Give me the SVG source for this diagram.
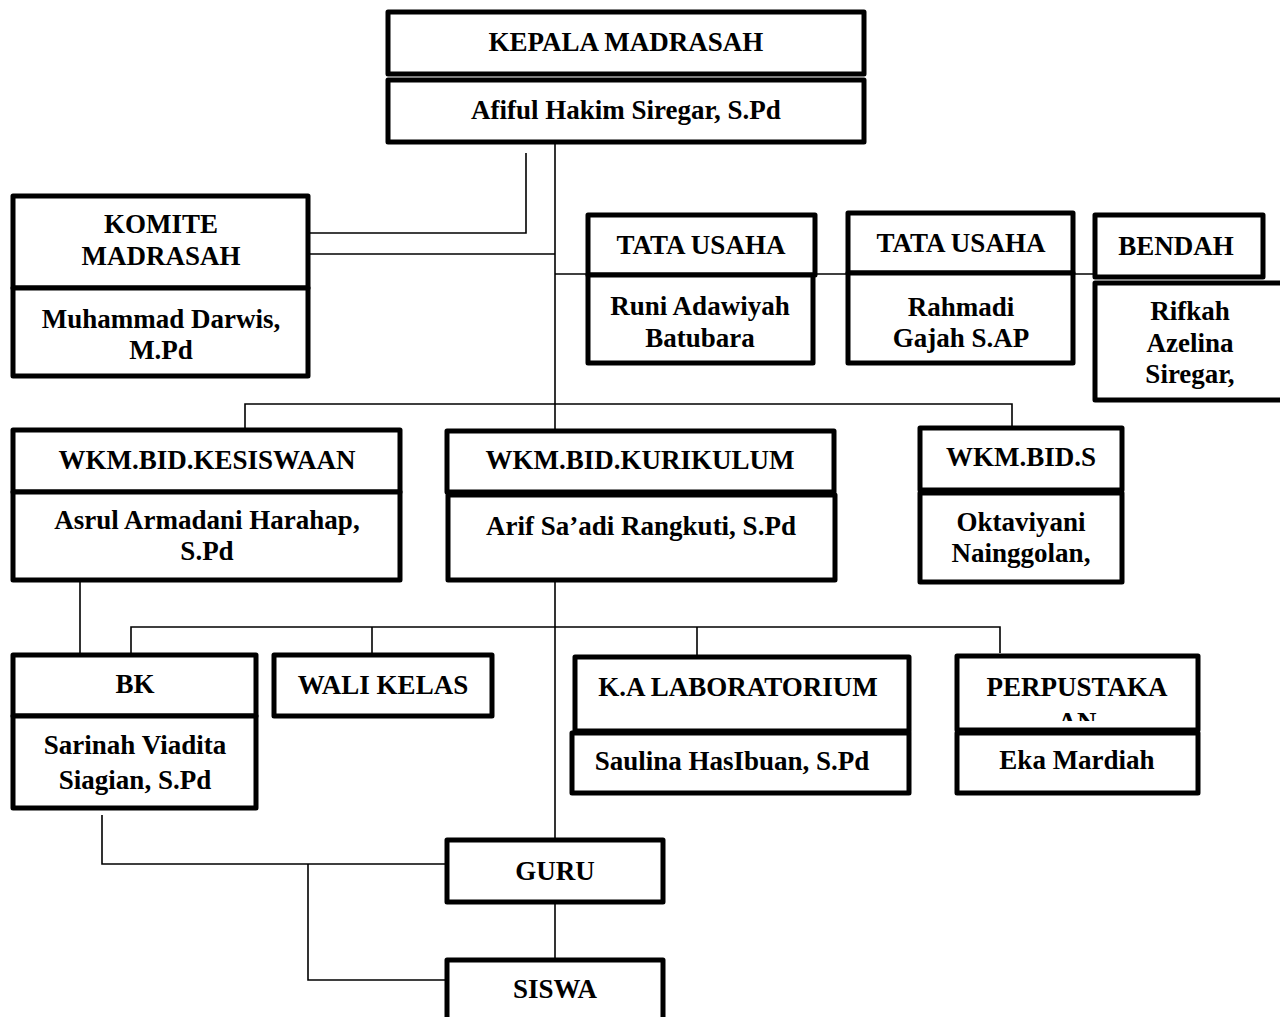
<svg xmlns="http://www.w3.org/2000/svg" width="1280" height="1017" viewBox="0 0 1280 1017">
<style>
.box{fill:#fff;stroke:#000;stroke-width:5;stroke-linejoin:round}
.t{font-family:"Liberation Serif","Times New Roman",serif;font-weight:bold;font-size:27px;text-anchor:middle;fill:#000}
.ln{fill:none;stroke:#000;stroke-width:1.6}
</style>
<defs>
<clipPath id="clipPerp"><rect x="960" y="658" width="236" height="63"/></clipPath>
</defs>
<rect width="1280" height="1017" fill="#fff"/>
<g id="connectors">
<path class="ln" d="M555 142V430"/>
<path class="ln" d="M526 153V233H308"/>
<path class="ln" d="M308 254H555"/>
<path class="ln" d="M555 274H1095"/>
<path class="ln" d="M245 430V404H1012V428"/>
<path class="ln" d="M80 580V655"/>
<path class="ln" d="M555 580V840"/>
<path class="ln" d="M131 655V627H1000V653"/>
<path class="ln" d="M372 627V655"/>
<path class="ln" d="M697 627V657"/>
<path class="ln" d="M102 815V864H447"/>
<path class="ln" d="M308 864V980H447"/>
<path class="ln" d="M555 902V960"/>
</g>
<g id="kepala">
<rect class="box" x="388" y="12" width="476" height="62"/>
<text class="t" x="626" y="51">KEPALA MADRASAH</text>
<rect class="box" x="388" y="80" width="476" height="62"/>
<text class="t" x="626" y="119">Afiful Hakim Siregar, S.Pd</text>
</g>
<g id="komite">
<rect class="box" x="13" y="196" width="295" height="92"/>
<text class="t" x="161" y="233">KOMITE</text>
<text class="t" x="161" y="265">MADRASAH</text>
<rect class="box" x="13" y="288" width="295" height="88"/>
<text class="t" x="161" y="328">Muhammad Darwis,</text>
<text class="t" x="161" y="359">M.Pd</text>
</g>
<g id="tata-usaha-1">
<rect class="box" x="588" y="215" width="227" height="60"/>
<text class="t" x="701" y="254">TATA USAHA</text>
<rect class="box" x="588" y="275" width="225" height="88"/>
<text class="t" x="700" y="315">Runi Adawiyah</text>
<text class="t" x="700" y="347">Batubara</text>
</g>
<g id="tata-usaha-2">
<rect class="box" x="848" y="213" width="225" height="60"/>
<text class="t" x="961" y="252">TATA USAHA</text>
<rect class="box" x="848" y="273" width="225" height="90"/>
<text class="t" x="961" y="316">Rahmadi</text>
<text class="t" x="961" y="347">Gajah S.AP</text>
</g>
<g id="bendahara">
<rect class="box" x="1095" y="215" width="168" height="62"/>
<text class="t" x="1176" y="255">BENDAH</text>
<rect class="box" x="1095" y="283" width="200" height="117"/>
<text class="t" x="1190" y="320">Rifkah</text>
<text class="t" x="1190" y="352">Azelina</text>
<text class="t" x="1190" y="383">Siregar,</text>
</g>
<g id="wkm-kesiswaan">
<rect class="box" x="13" y="430" width="387" height="62"/>
<text class="t" x="207" y="469">WKM.BID.KESISWAAN</text>
<rect class="box" x="13" y="492" width="387" height="88"/>
<text class="t" x="207" y="529">Asrul Armadani Harahap,</text>
<text class="t" x="207" y="560">S.Pd</text>
</g>
<g id="wkm-kurikulum">
<rect class="box" x="447" y="431" width="387" height="61"/>
<text class="t" x="640" y="469">WKM.BID.KURIKULUM</text>
<rect class="box" x="448" y="495" width="387" height="85"/>
<text class="t" x="641" y="535">Arif Sa’adi Rangkuti, S.Pd</text>
</g>
<g id="wkm-sarana">
<rect class="box" x="920" y="428" width="202" height="62"/>
<text class="t" x="1021" y="466">WKM.BID.S</text>
<rect class="box" x="920" y="493" width="202" height="89"/>
<text class="t" x="1021" y="531">Oktaviyani</text>
<text class="t" x="1021" y="562">Nainggolan,</text>
</g>
<g id="bk">
<rect class="box" x="13" y="655" width="243" height="61"/>
<text class="t" x="135" y="693">BK</text>
<rect class="box" x="13" y="716" width="243" height="92"/>
<text class="t" x="135" y="754">Sarinah Viadita</text>
<text class="t" x="135" y="789">Siagian, S.Pd</text>
</g>
<g id="wali-kelas">
<rect class="box" x="274" y="655" width="218" height="61"/>
<text class="t" x="383" y="694">WALI KELAS</text>
</g>
<g id="lab">
<rect class="box" x="575" y="657" width="334" height="74"/>
<text class="t" x="738" y="696">K.A LABORATORIUM</text>
<rect class="box" x="572" y="733" width="337" height="60"/>
<text class="t" x="732" y="770">Saulina HasIbuan, S.Pd</text>
</g>
<g id="perpustakaan">
<rect class="box" x="957" y="656" width="241" height="74"/>
<text class="t" x="1077" y="696">PERPUSTAKA</text>
<text class="t" x="1077" y="731" clip-path="url(#clipPerp)">AN</text>
<rect class="box" x="957" y="733" width="241" height="60"/>
<text class="t" x="1077" y="769">Eka Mardiah</text>
</g>
<g id="guru">
<rect class="box" x="447" y="840" width="216" height="62"/>
<text class="t" x="555" y="880">GURU</text>
</g>
<g id="siswa">
<rect class="box" x="447" y="960" width="216" height="80"/>
<text class="t" x="555" y="998">SISWA</text>
</g>
</svg>
